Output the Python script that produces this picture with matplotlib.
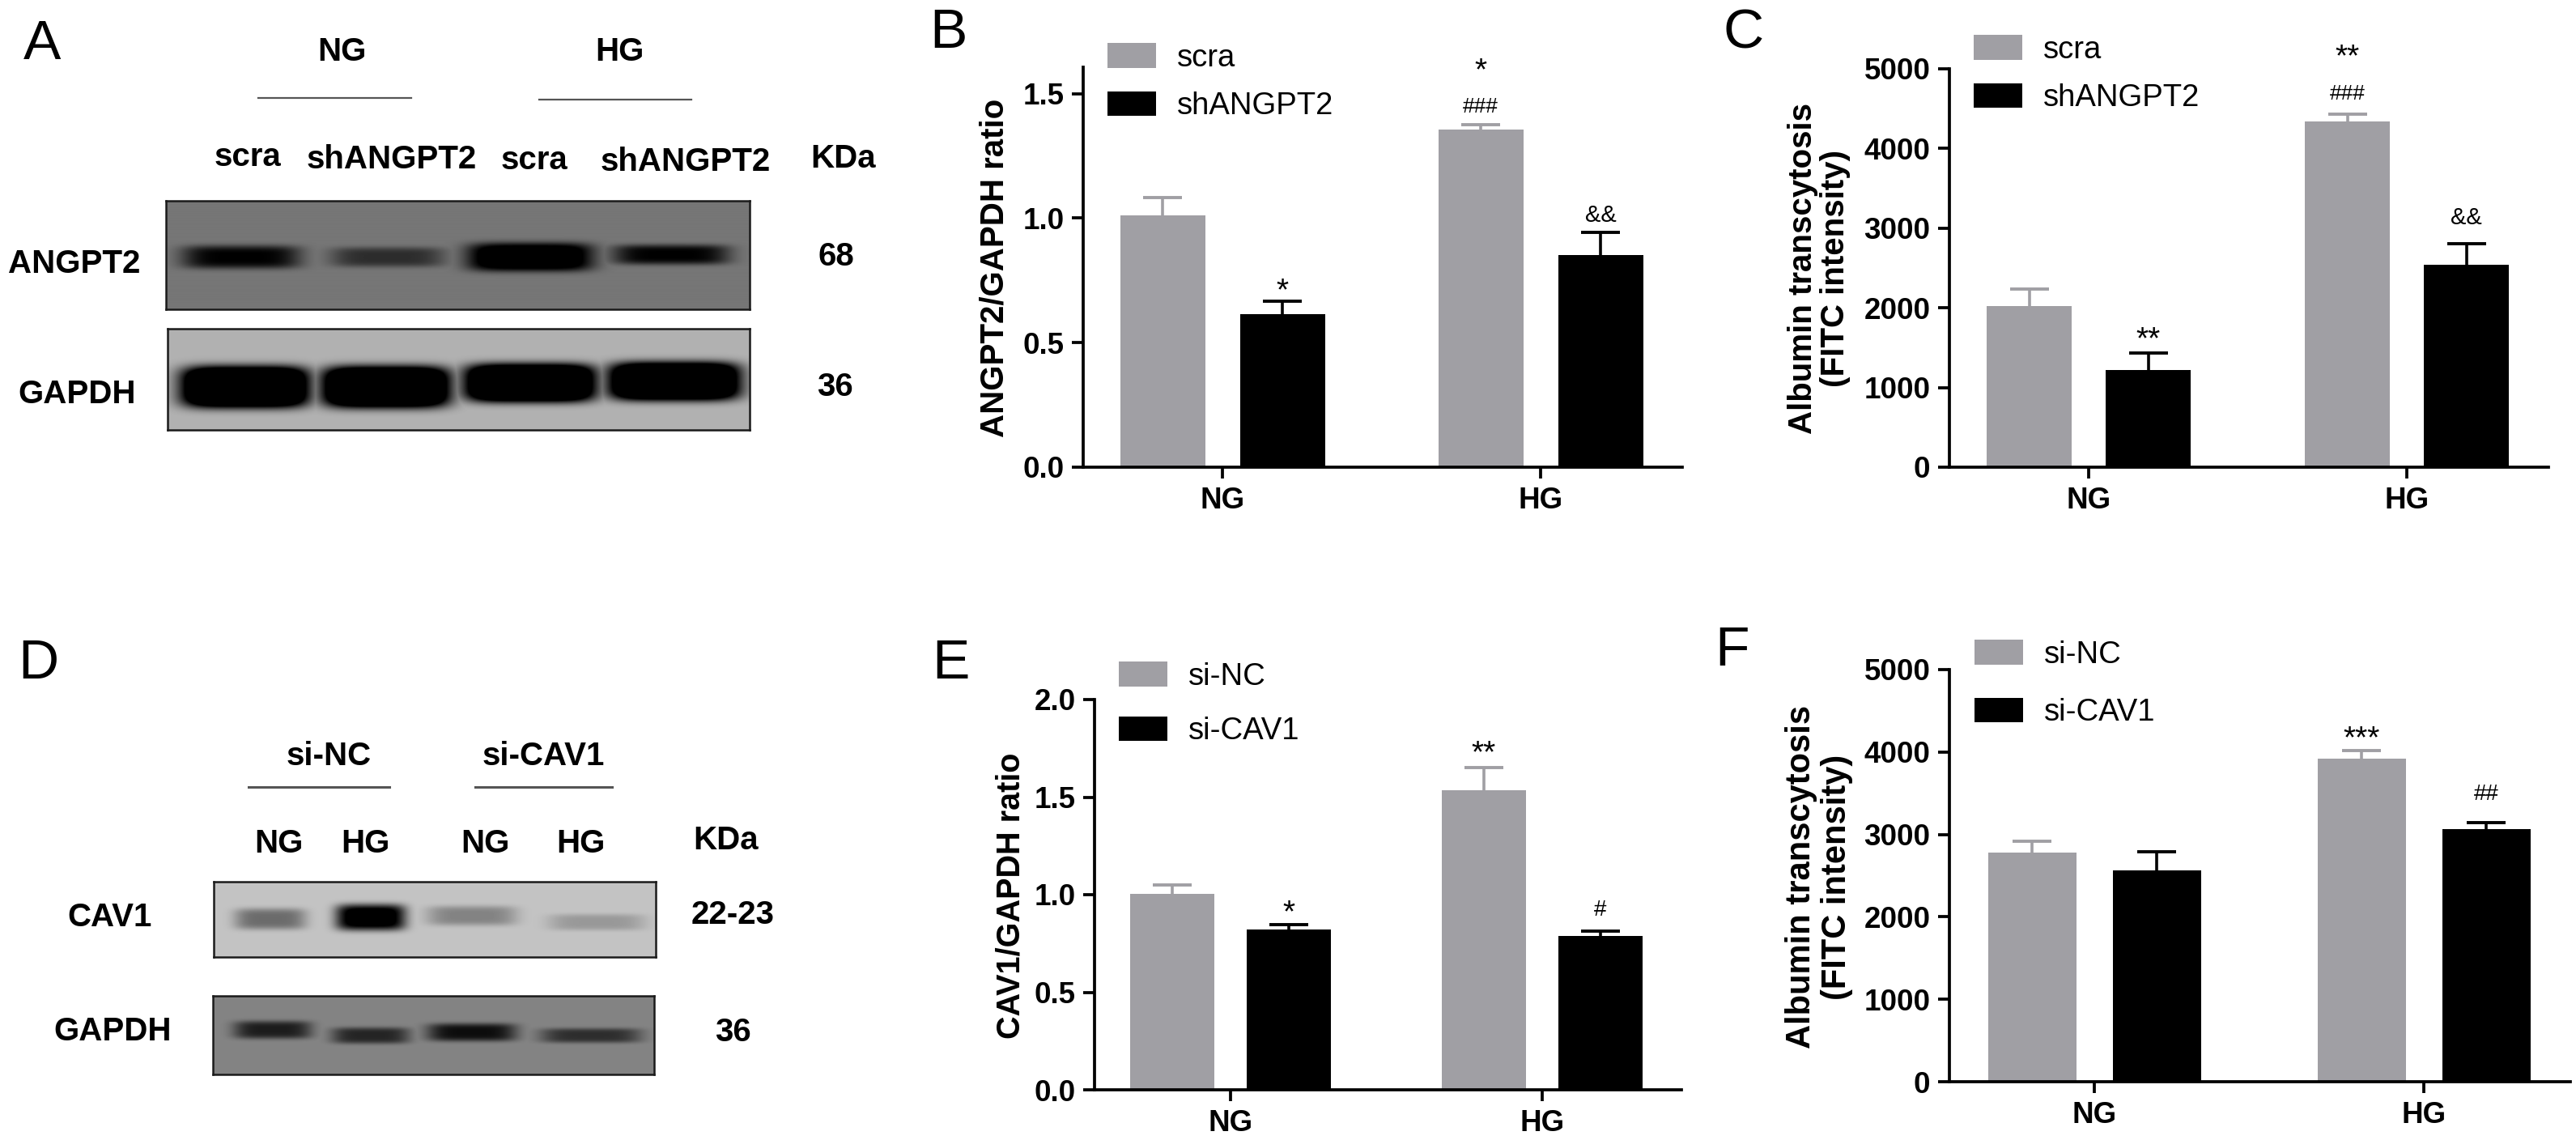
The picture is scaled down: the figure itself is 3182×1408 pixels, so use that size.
import matplotlib
matplotlib.use("Agg")
import matplotlib.pyplot as plt
import numpy as np

plt.rcParams['font.family'] = ['Liberation Sans', 'DejaVu Sans']

W, H = 3182, 1408
GREY = '#a09fa4'

# bar values, [NG, HG]
groups = ['NG', 'HG']

b_labels = ['scra', 'shANGPT2']
b_ctrl = [1.01, 1.355]
b_ctrl_err = [0.072, 0.019]
b_treat = [0.616, 0.852]
b_treat_err = [0.05, 0.092]
b_ticks = [0.0, 0.5, 1.0, 1.5]
b_ticklabels = ['0.0', '0.5', '1.0', '1.5']

c_ctrl = [2025, 4337]
c_ctrl_err = [210, 89]
c_treat = [1220, 2539]
c_treat_err = [214, 265]
c_ticks = [0, 1000, 2000, 3000, 4000, 5000]

e_labels = ['si-NC', 'si-CAV1']
e_ctrl = [1.005, 1.535]
e_ctrl_err = [0.045, 0.117]
e_treat = [0.823, 0.789]
e_treat_err = [0.024, 0.026]
e_ticks = [0.0, 0.5, 1.0, 1.5, 2.0]
e_ticklabels = ['0.0', '0.5', '1.0', '1.5', '2.0']

f_ctrl = [2782, 3921]
f_ctrl_err = [138, 98]
f_treat = [2567, 3066]
f_treat_err = [227, 77]

# significance marks: (group, 0 ctrl / 1 treat, text, baseline value, size)
b_marks = [(0, 1, '*', 0.672, 28), (1, 0, '*', 1.556, 28), (1, 0, '###', 1.425, 19), (1, 1, '&&', 0.984, 21)]
c_marks = [(0, 1, '**', 1490, 28), (1, 0, '**', 5036, 28), (1, 0, '###', 4615, 19), (1, 1, '&&', 3048, 21)]
e_marks = [(0, 1, '*', 0.861, 28), (1, 0, '**', 1.679, 28), (1, 1, '#', 0.892, 20)]
f_marks = [(1, 0, '***', 4050, 28), (1, 1, '##', 3414, 20)]

# blot bands: centre x, half width, centre y, half height, darkness (pixels of the figure)
# darkness above 1 saturates to a black core
a_top_bands = [(298, 73, 318, 14, 1.0), (479, 70, 318, 12, 0.62), (655, 77, 318, 17, 1.5), (829, 72, 315, 12, 1.0)]
a_low_bands = [(303, 78, 478, 25, 2.2), (477, 78, 478, 25, 2.2), (655, 80, 473, 23, 2.2), (833, 80, 471, 23, 2.2)]
d_top_bands = [(334, 44, 1135, 13, 0.45), (458, 43, 1133, 16, 1.2), (583, 55, 1131, 12, 0.33), (737, 59, 1139, 10, 0.22)]
d_low_bands = [(337, 48, 1272, 11, 0.78), (458, 48, 1279, 10, 0.72), (583, 55, 1275, 11, 0.9), (730, 62, 1279, 9, 0.65)]

fig = plt.figure(figsize=(W / 100, H / 100), dpi=100, facecolor='white')


def put(x, y, s, size=29, weight='bold', ha='center', **kw):
    # text with baseline at figure pixel x, y
    fig.text(x / W, 1 - y / H, s, fontsize=size, fontweight=weight, ha=ha, va='baseline', **kw)


def rule(x0, x1, y, lw, color='#555555'):
    fig.add_artist(plt.Line2D([x0 / W, x1 / W], [1 - y / H, 1 - y / H], color=color, lw=lw))


def blot(x0, x1, y0, y1, bg, bands, edge=1.8):
    ax = fig.add_axes([x0 / W, 1 - y1 / H, (x1 - x0) / W, (y1 - y0) / H])
    xx, yy = np.meshgrid(np.arange(x0, x1) + 0.5, np.arange(y0, y1) + 0.5)
    dark = np.zeros(xx.shape)
    for cx, hw, cy, hh, d in bands:
        dark = np.maximum(dark, d * np.exp(-np.abs((xx - cx) / hw) ** 5 - np.abs((yy - cy) / hh) ** 4))
    ax.imshow(bg * (1 - np.clip(dark, 0, 1)), cmap='gray', vmin=0, vmax=255, aspect='auto', extent=(x0, x1, y1, y0))
    ax.set_xticks([])
    ax.set_yticks([])
    for s in ax.spines.values():
        s.set_linewidth(edge)
        s.set_color('#1a1a1a')


def bars(left, right, y0, ytop, ymax, tx0, tx1, off, bw, ctrl, ctrl_err, treat, treat_err,
         ticks, ticklabels, ylabel, ylab_x, ylab_y, ylab_size, labels, leg_x, leg_y, leg_gap, marks):
    ax = fig.add_axes([left / W, 1 - y0 / H, (right - left) / W, (y0 - ytop) / H])
    step = tx1 - tx0
    ax.set_xlim((left - tx0) / step, (right - tx0) / step)
    ax.set_ylim(0, ymax)
    x = np.arange(len(groups))
    d = off / step
    width = bw / step
    h1 = ax.bar(x - d, ctrl, width, color=GREY, label=labels[0])
    h2 = ax.bar(x + d, treat, width, color='black', label=labels[1])
    for xs, v, e, c in ((x - d, ctrl, ctrl_err, GREY), (x + d, treat, treat_err, 'black')):
        eb = ax.errorbar(xs, v, yerr=[np.zeros(len(v)), e], fmt='none', ecolor=c, elinewidth=2.6,
                         capsize=17, capthick=2.8, zorder=1)
        # only the upper cap is wanted
        eb[1][0].set_visible(False)
    for g, s, txt, val, size in marks:
        px = x[g] + (d if s else -d)
        ax.text(px, val, txt, fontsize=size, ha='center', va='baseline', clip_on=False)
    for s in ('top', 'right'):
        ax.spines[s].set_visible(False)
    for s in ('left', 'bottom'):
        ax.spines[s].set_linewidth(2.7)
    ax.set_xticks(x)
    ax.set_xticklabels(groups, fontsize=26.5, fontweight='bold')
    ax.set_yticks(ticks)
    ax.set_yticklabels(ticklabels, fontsize=26.5, fontweight='bold')
    ax.tick_params(axis='both', length=10, width=2.7, pad=7)
    fig.text(ylab_x / W, 1 - ylab_y / H, ylabel, fontsize=ylab_size, fontweight='bold', rotation=90,
             ha='center', va='center', multialignment='center', linespacing=1.1)
    em = 27.5 * 100 / 72
    fig.legend(handles=[h1, h2], labels=labels, loc='upper left', bbox_to_anchor=(leg_x / W, 1 - leg_y / H),
               frameon=False, fontsize=27.5, borderpad=0, borderaxespad=0, handlelength=60 / em,
               handleheight=33 / em, handletextpad=26 / em, labelspacing=leg_gap / em)


# panel letters
for x, y, s in [(29, 73, 'A'), (1148, 59, 'B'), (2129, 59, 'C'), (22, 838, 'D'), (1151, 838, 'E'), (2118, 822, 'F')]:
    put(x, y, s, size=50, weight='normal', ha='left')

# panel A
put(422, 75, 'NG')
put(765, 75, 'HG')
rule(319, 508, 121, 1.6)
rule(666, 854, 122.5, 1.6)
put(306, 205, 'scra')
put(484, 208, 'shANGPT2')
put(660, 209, 'scra')
put(847, 211, 'shANGPT2')
put(1042, 207, 'KDa')
put(92, 337, 'ANGPT2')
put(1033, 328, '68')
put(95, 498, 'GAPDH')
put(1031, 489, '36')
blot(205, 926, 248, 382, 118, a_top_bands)
blot(207, 926, 406, 531, 178, a_low_bands)

# panel D
put(406, 945, 'si-NC')
put(671, 945, 'si-CAV1')
rule(307, 481, 972, 2.2)
rule(587, 756, 972, 2.2)
put(344, 1053, 'NG')
put(451, 1053, 'HG')
put(599, 1053, 'NG')
put(717, 1053, 'HG')
put(897, 1049, 'KDa')
put(136, 1144, 'CAV1')
put(905, 1141, '22-23')
put(139, 1285, 'GAPDH')
put(905, 1286, '36')
blot(264, 810, 1089, 1182, 195, d_top_bands)
blot(263, 808, 1230, 1327, 132, d_low_bands)

# bar panels B, C, E, F
bars(1338, 2078, 577, 83, 1.606, 1510, 1903, 74, 105, b_ctrl, b_ctrl_err, b_treat, b_treat_err,
     b_ticks, b_ticklabels, 'ANGPT2/GAPDH ratio', 1229, 331, 29, b_labels, 1368, 53, 23, b_marks)
bars(2408, 3148, 577, 85, 5000, 2580, 2973, 73.5, 105, c_ctrl, c_ctrl_err, c_treat, c_treat_err,
     c_ticks, [str(t) for t in c_ticks], 'Albumin transcytosis\n(FITC intensity)', 2247, 331, 29,
     b_labels, 2438, 43, 23, c_marks)
bars(1352, 2077, 1346, 864, 2.0, 1520, 1905, 72, 104, e_ctrl, e_ctrl_err, e_treat, e_treat_err,
     e_ticks, e_ticklabels, 'CAV1/GAPDH ratio', 1249, 1106, 28.5, e_labels, 1382, 817, 31, e_marks)
bars(2408, 3175, 1336, 827, 5000, 2587, 2994, 77, 109, f_ctrl, f_ctrl_err, f_treat, f_treat_err,
     c_ticks, [str(t) for t in c_ticks], 'Albumin transcytosis\n(FITC intensity)', 2247, 1083, 30,
     e_labels, 2439, 790, 35, f_marks)

fig.savefig('out.png', dpi=100)
